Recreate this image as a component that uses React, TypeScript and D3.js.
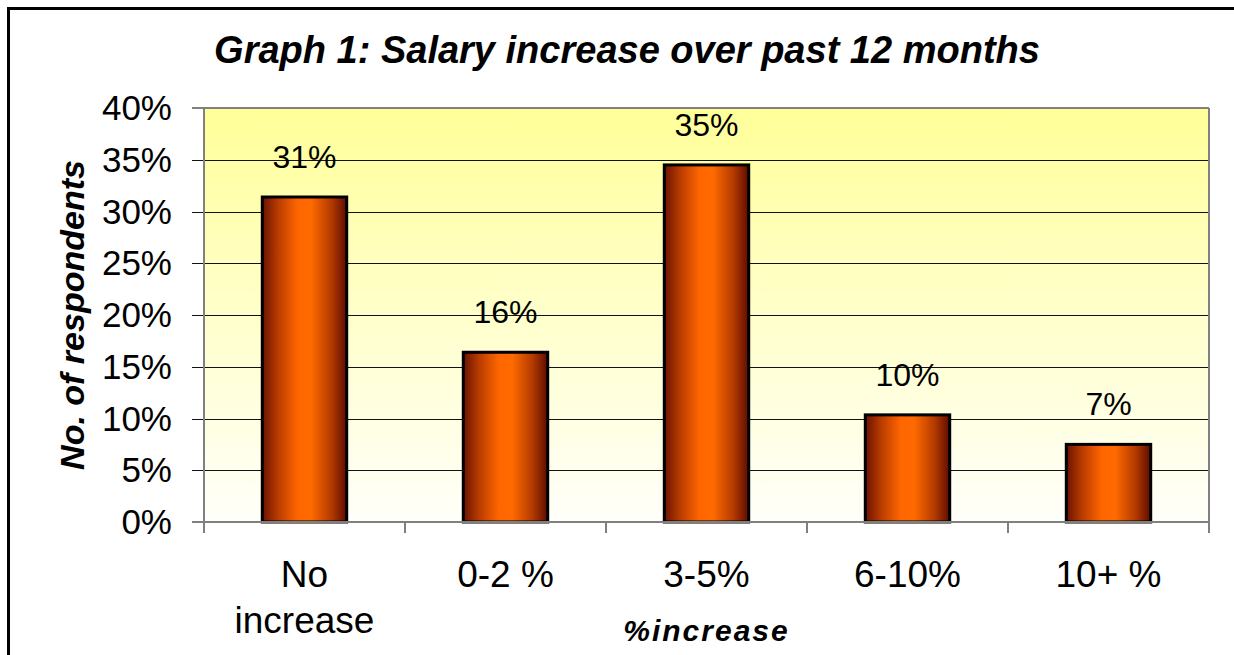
import React from "react";
import * as d3 from "d3";

const categories: string[][] = [["No", "increase"], ["0-2 %"], ["3-5%"], ["6-10%"], ["10+ %"]];
const values: number[] = [31.4, 16.4, 34.5, 10.35, 7.5];
const valueLabels: string[] = ["31%", "16%", "35%", "10%", "7%"];
const yTicks: number[] = [0, 5, 10, 15, 20, 25, 30, 35, 40];
const title = "Graph 1: Salary increase over past 12 months";
const yTitle = "No. of respondents";
const xTitle = "%increase";

const W = 1234;
const H = 655;
const plot = { left: 204, right: 1209, top: 108, bottom: 522 };
const FONT = "'Liberation Sans', Arial, Helvetica, sans-serif";

export default function App() {
  const x = d3
    .scaleBand<number>()
    .domain(d3.range(categories.length))
    .range([plot.left, plot.right])
    .paddingInner(0.58)
    .paddingOuter(0.29);
  const band = d3.scaleBand<number>().domain(d3.range(categories.length)).range([plot.left, plot.right]);
  const y = d3.scaleLinear().domain([0, 40]).range([plot.bottom, plot.top]);
  const bw = x.bandwidth();

  const boundaries = d3.range(categories.length + 1).map((i) => plot.left + i * band.step());

  return (
    <svg
      width={W}
      height={H}
      style={{ position: "absolute", left: 0, top: 0, background: "#fff" }}
      fontFamily={FONT}
    >
      <defs>
        <linearGradient id="bg" x1="0" y1="0" x2="0" y2="1">
          <stop offset="0%" stopColor="#ffff99" />
          <stop offset="55%" stopColor="#ffffd0" />
          <stop offset="100%" stopColor="#fffffa" />
        </linearGradient>
        <linearGradient id="bar" x1="0" y1="0" x2="1" y2="0">
          <stop offset="0%" stopColor="#6a1200" />
          <stop offset="18%" stopColor="#b63a00" />
          <stop offset="42%" stopColor="#ff6600" />
          <stop offset="58%" stopColor="#ff6a00" />
          <stop offset="82%" stopColor="#b33a00" />
          <stop offset="100%" stopColor="#5e0c00" />
        </linearGradient>
      </defs>

      {/* outer frame */}
      <rect x={8.5} y={8.5} width={1400} height={800} fill="none" stroke="#000" strokeWidth={3} />

      {/* title */}
      <text
        x={627}
        y={63}
        textAnchor="middle"
        fontSize={38}
        fontWeight="bold"
        fontStyle="italic"
        fill="#000"
      >
        {title}
      </text>

      {/* plot background */}
      <rect
        x={plot.left}
        y={plot.top}
        width={plot.right - plot.left}
        height={plot.bottom - plot.top}
        fill="url(#bg)"
      />

      {/* gridlines */}
      {yTicks
        .filter((t) => t > 0 && t < 40)
        .map((t) => (
          <line
            key={"g" + t}
            x1={plot.left - 12}
            x2={plot.right}
            y1={Math.round(y(t)) + 0.5}
            y2={Math.round(y(t)) + 0.5}
            stroke="#111"
            strokeWidth={1}
          />
        ))}
      {/* 0 and 40 ticks */}
      {[0, 40].map((t) => (
        <line
          key={"t" + t}
          x1={plot.left - 12}
          x2={plot.left}
          y1={y(t)}
          y2={y(t)}
          stroke="#808080"
          strokeWidth={2}
        />
      ))}

      {/* plot border top/right */}
      <line x1={plot.left} x2={plot.right} y1={plot.top} y2={plot.top} stroke="#808080" strokeWidth={2} />
      <line x1={plot.right} x2={plot.right} y1={plot.top} y2={plot.bottom} stroke="#808080" strokeWidth={2} />

      {/* bars */}
      {values.map((v, i) => (
        <rect
          key={"b" + i}
          x={x(i)!}
          y={y(v)}
          width={bw}
          height={y(0) - y(v)}
          fill="url(#bar)"
          stroke="#000"
          strokeWidth={3}
        />
      ))}

      {/* axes */}
      <line x1={plot.left} x2={plot.left} y1={plot.top} y2={plot.bottom + 11} stroke="#808080" strokeWidth={2} />
      <line x1={plot.left} x2={plot.right} y1={plot.bottom} y2={plot.bottom} stroke="#808080" strokeWidth={2} />
      {boundaries.map((bx, i) => (
        <line key={"xt" + i} x1={bx} x2={bx} y1={plot.bottom} y2={plot.bottom + 11} stroke="#808080" strokeWidth={2} />
      ))}

      {/* value labels */}
      {values.map((v, i) => (
        <text
          key={"v" + i}
          x={x(i)! + bw / 2}
          y={y(v) - 29}
          textAnchor="middle"
          fontSize={32}
          fill="#000"
        >
          {valueLabels[i]}
        </text>
      ))}

      {/* y tick labels */}
      {yTicks.map((t) => (
        <text key={"yl" + t} x={172} y={y(t) + 12} textAnchor="end" fontSize={35} fill="#000">
          {t + "%"}
        </text>
      ))}

      {/* x category labels */}
      {categories.map((lines, i) => (
        <text key={"c" + i} x={x(i)! + bw / 2} textAnchor="middle" fontSize={37} fill="#000">
          {lines.map((l, j) => (
            <tspan key={j} x={x(i)! + bw / 2} y={587 + j * 46}>
              {l}
            </tspan>
          ))}
        </text>
      ))}

      {/* axis titles */}
      <text
        x={(plot.left + plot.right) / 2}
        y={641}
        textAnchor="middle"
        fontSize={30}
        fontWeight="bold"
        fontStyle="italic"
        letterSpacing={2}
        fill="#000"
      >
        {xTitle}
      </text>
      <text
        transform={`translate(84, ${(plot.top + plot.bottom) / 2}) rotate(-90)`}
        textAnchor="middle"
        fontSize={34}
        fontWeight="bold"
        fontStyle="italic"
        fill="#000"
      >
        {yTitle}
      </text>
    </svg>
  );
}
